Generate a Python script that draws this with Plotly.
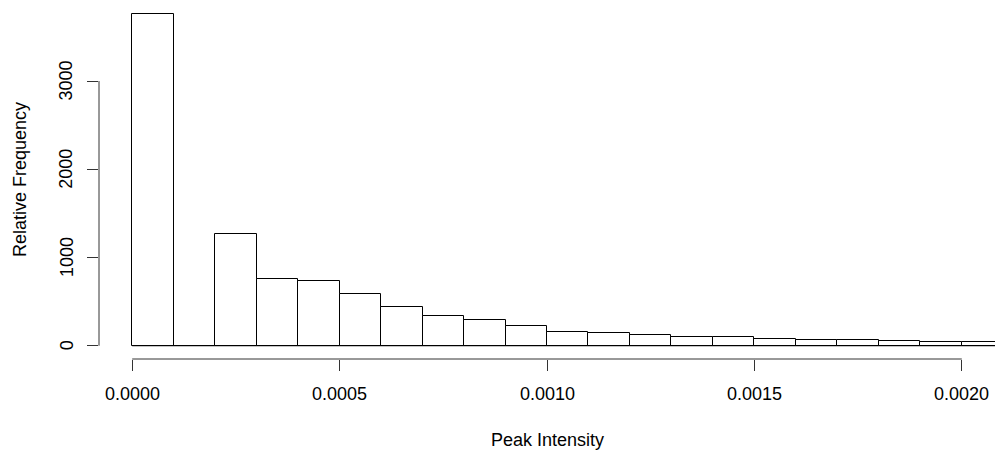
import plotly.graph_objects as go

# Histogram data
bin_width = 0.0001
bin_starts = [0.0000, 0.0001, 0.0002, 0.0003, 0.0004, 0.0005, 0.0006, 0.0007,
              0.0008, 0.0009, 0.0010, 0.0011, 0.0012, 0.0013, 0.0014, 0.0015,
              0.0016, 0.0017, 0.0018, 0.0019, 0.0020]
counts = [3757, 0, 1263, 761, 738, 582, 435, 336, 291, 222, 159, 140, 124,
          104, 96, 74, 66, 62, 55, 48, 40]

x_ticks = [0.0000, 0.0005, 0.0010, 0.0015, 0.0020]
x_tick_labels = ["0.0000", "0.0005", "0.0010", "0.0015", "0.0020"]
y_ticks = [0, 1000, 2000, 3000]
y_tick_labels = ["0", "1000", "2000", "3000"]

W, H = 995, 452
ML, MR, MT, MB = 99, 0, 1, 93
PW, PH = W - ML - MR, H - MT - MB

xlim = [0.0, 0.0020]
ylim = [0, max(counts)]
def ext(lim):
    d = (lim[1] - lim[0]) * 0.04
    return [lim[0] - d, lim[1] + d]

FONT = "Liberation Sans, Arial, Helvetica, sans-serif"
FS = 18
LC = "#000000"

centers = [s + bin_width / 2 for s in bin_starts]

fig = go.Figure()
fig.add_trace(go.Bar(
    x=centers, y=counts, width=bin_width,
    marker=dict(color="white", line=dict(color=LC, width=1)),
    hoverinfo="skip",
))

shapes = []
# zero-height bars baseline
shapes.append(dict(type="line", xref="x", yref="y",
                   x0=bin_starts[0], x1=bin_starts[-1] + bin_width, y0=0, y1=0,
                   line=dict(color=LC, width=1)))
# x axis line (first to last tick)
shapes.append(dict(type="line", xref="x", yref="paper",
                   x0=x_ticks[0], x1=x_ticks[-1], y0=0, y1=0,
                   line=dict(color="#333333", width=1)))
# y axis line
shapes.append(dict(type="line", xref="paper", yref="y",
                   x0=0, x1=0, y0=y_ticks[0], y1=y_ticks[-1],
                   line=dict(color="#333333", width=1)))

annotations = []
for v, t in zip(x_ticks, x_tick_labels):
    annotations.append(dict(x=v, xref="x", y=-35 / PH, yref="paper", text=t,
                            showarrow=False, xanchor="center", yanchor="middle",
                            font=dict(family=FONT, size=FS, color="black")))
for v, t in zip(y_ticks, y_tick_labels):
    annotations.append(dict(x=-(ML - 66.5) / PW, xref="paper", y=v, yref="y", text=t,
                            showarrow=False, xanchor="center", yanchor="middle",
                            textangle=-90,
                            font=dict(family=FONT, size=FS, color="black")))
annotations.append(dict(x=0.5, xref="paper", y=-(440 - (H - MB)) / PH, yref="paper",
                        text="Peak Intensity", showarrow=False,
                        xanchor="center", yanchor="middle",
                        font=dict(family=FONT, size=FS, color="black")))
annotations.append(dict(x=-(ML - 20) / PW, xref="paper", y=0.5, yref="paper",
                        text="Relative Frequency", showarrow=False, textangle=-90,
                        xanchor="center", yanchor="middle",
                        font=dict(family=FONT, size=FS, color="black")))

fig.update_layout(
    width=W, height=H,
    margin=dict(l=ML, r=MR, t=MT, b=MB, pad=0),
    paper_bgcolor="white", plot_bgcolor="white",
    showlegend=False, bargap=0,
    shapes=shapes, annotations=annotations,
    xaxis=dict(range=ext(xlim), tickvals=x_ticks, showticklabels=False,
               ticks="outside", ticklen=11, tickwidth=1, tickcolor="#333333",
               showgrid=False, zeroline=False, showline=False, fixedrange=True),
    yaxis=dict(range=ext(ylim), tickvals=y_ticks, showticklabels=False,
               ticks="outside", ticklen=11, tickwidth=1, tickcolor="#333333",
               showgrid=False, zeroline=False, showline=False, fixedrange=True),
)

fig.write_html("out.html")
